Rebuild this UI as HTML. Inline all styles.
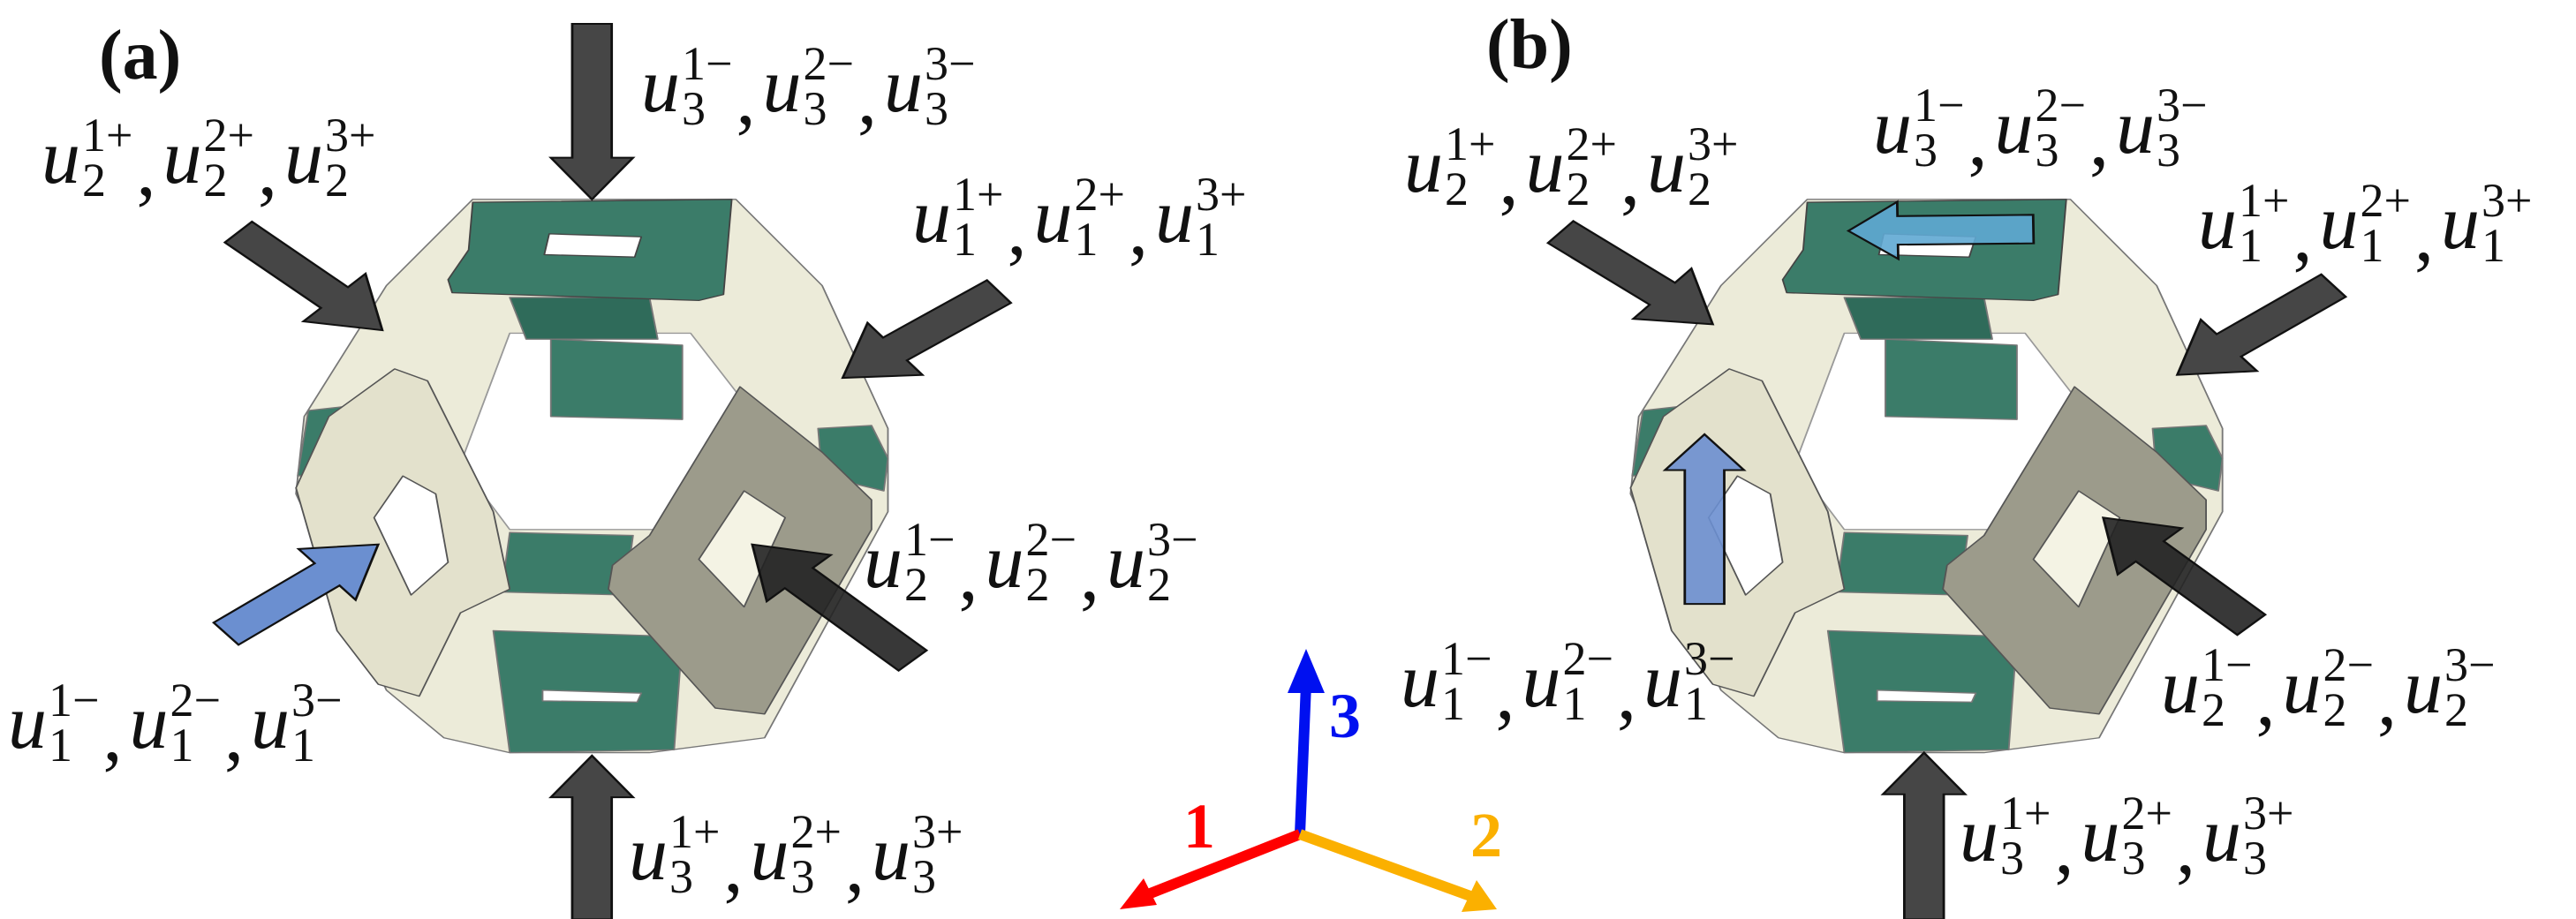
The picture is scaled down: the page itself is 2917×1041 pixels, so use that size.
<!DOCTYPE html>
<html><head><meta charset="utf-8">
<style>
html,body{margin:0;padding:0;background:#fff;}
#wrap{position:relative;width:2917px;height:1041px;overflow:hidden;background:#fff;}
svg{position:absolute;left:0;top:0;}
.lbl{position:absolute;font-family:"Liberation Serif",serif;font-style:italic;font-size:88px;color:#111;white-space:nowrap;line-height:1;display:flex;align-items:center;}
.g{display:inline-flex;align-items:center;}
.ss{display:inline-flex;flex-direction:column;font-style:normal;font-size:54px;line-height:0.95;margin-left:2px;}
.cm{font-style:normal;margin:0 8px 0 4px;position:relative;top:14px;}
.pl{position:absolute;font-family:"Liberation Serif",serif;font-weight:bold;font-size:80px;color:#111;}
.ax{position:absolute;font-family:"Liberation Serif",serif;font-weight:bold;font-size:72px;}
</style></head><body>
<div id="wrap">
<svg id="svg" width="2917" height="1041" viewBox="0 0 2917 1041">
  <g id="pa" transform="scale(0.931,0.674)"></g>
  <g id="pb" transform="translate(1460,0) scale(0.931,0.674)"></g>
  <g id="triad"></g>
</svg>
<div class="pl" style="left:112px;top:18px">(a)</div>
<div class="pl" style="left:1683px;top:6px">(b)</div>
<div class="ax" style="left:1340px;top:895px;color:#f00">1</div>
<div class="ax" style="left:1665px;top:905px;color:#fbb000">2</div>
<div class="ax" style="left:1505px;top:770px;color:#0010f0">3</div>
</div>
<script>
const NS="http://www.w3.org/2000/svg";
function el(parent,tag,attrs){const e=document.createElementNS(NS,tag);for(const k in attrs)e.setAttribute(k,attrs[k]);parent.appendChild(e);return e;}
function arrowPts(x1,y1,x2,y2,w,h,L){const dx=x2-x1,dy=y2-y1,len=Math.hypot(dx,dy),ux=dx/len,uy=dy/len,nx=-uy,ny=ux;const bx=x2-ux*L,by=y2-uy*L;
 const p=[[x1+nx*w,y1+ny*w],[bx+nx*w,by+ny*w],[bx+nx*h,by+ny*h],[x2,y2],[bx-nx*h,by-ny*h],[bx-nx*w,by-ny*w],[x1-nx*w,y1-ny*w]];return p.map(a=>a.join(',')).join(' ');}
function arrow(g,a,fill,op,name){const e=el(g,'polygon',{points:arrowPts(...a),fill:fill,stroke:'#111',"stroke-width":3,"fill-opacity":op});
 
 }
function poly(g,pts,fill,name,stroke){const e=el(g,'polygon',{points:pts,fill:fill,stroke:stroke||'#777',"stroke-width":2,"stroke-linejoin":"round"});
 
 return e;}
function cell(g,dx){
 const t=(pts)=>pts.split(' ').map(p=>{const [x,y]=p.split(',').map(Number);return (x+dx)+','+y;}).join(' ');
 poly(g,t("575,335 895,335 1000,480 1080,720 1080,860 930,1240 790,1265 620,1265 540,1240 470,1160 360,830 370,700 470,480"),'#ecebd9','cell-body');
 poly(g,t("620,560 840,560 930,720 860,890 620,890 560,780"),'#ffffff','center-void','#999');
 poly(g,t("620,500 790,500 800,570 640,570"),'#2f6b5a','upper-bar-top');
 poly(g,t("670,570 830,580 830,705 670,700"),'#3b7c69','upper-bar');
 poly(g,t("620,895 770,900 760,1000 610,995"),'#3b7c69','lower-bar');
 poly(g,t("600,1060 830,1070 820,1260 620,1265"),'#3b7c69','bottom-bar');
 poly(g,t("660,1160 780,1165 775,1180 660,1178"),'#ffffff','bottom-slot');
 poly(g,t("375,690 440,680 430,790 362,800"),'#3b7c69','left-cap');
 poly(g,t("995,720 1060,715 1080,770 1075,825 1000,800"),'#3b7c69','right-cap');
 poly(g,t("575,340 890,335 880,495 850,505 550,492 545,470 570,420"),'#3b7c69','top-plate','#444');
 poly(g,t("668,393 780,398 772,432 662,428"),'#ffffff','top-slot','#444');
 poly(g,t("480,620 520,640 600,860 620,990 560,1030 510,1170 460,1150 410,1060 360,820 370,790 400,700"),'#e3e1cc','left-plate','#555');
 poly(g,t("490,800 530,830 545,945 500,1000 455,870"),'#ffffff','left-plate-hole','#555');
 poly(g,t("900,650 1000,760 1060,840 1060,890 930,1200 870,1190 740,990 745,950 790,900"),'#9c9b8b','right-plate','#555');
 poly(g,t("905,825 955,870 905,1020 850,940"),'#f4f3e4','right-plate-hole','#555');
}
const pa=document.getElementById('pa'),pb=document.getElementById('pb');
cell(pa,0);cell(pb,55);
const D='#464646';
// panel a arrows (zoom coords)
arrow(pa,[720,40,720,335,24,50,70],D,1,'arrow-top-a');
arrow(pa,[720,1545,720,1270,24,50,70],D,1,'arrow-bottom-a');
arrow(pa,[290,390,465,555,24,55,80],D,1,'arrow-upper-left-a');
arrow(pa,[1215,490,1025,635,24,55,80],D,1,'arrow-upper-right-a');
arrow(pa,[275,1065,460,915,24,55,80],'#6b8fd0',1,'arrow-blue-a');
arrow(pa,[1110,1110,915,915,24,55,80],'#222',0.9,'arrow-lower-right-a');
// panel b arrows
arrow(pb,[330,390,515,545,24,55,80],D,1,'arrow-upper-left-b');
arrow(pb,[1270,480,1080,630,24,55,80],D,1,'arrow-upper-right-b');
arrow(pb,[1170,1050,990,870,24,55,80],'#222',0.9,'arrow-lower-right-b');
arrow(pb,[772,1545,772,1265,24,50,70],D,1,'arrow-bottom-b');
arrow(pb,[505,1015,505,730,24,48,60],'#6b8fd0',0.9,'arrow-blue-up-b');
arrow(pb,[905,385,680,388,24,48,60],'#5fa8d3',0.9,'arrow-blue-left-b');
// triad
const tr=document.getElementById('triad');
function tline(x2,y2,c,n){const e=el(tr,'line',{x1:1472,y1:945,x2:x2,y2:y2,stroke:c,"stroke-width":12});}
tline(1479,775,'#0010f0','axis-3');tline(1295,1015,'#f00','axis-1');tline(1665,1015,'#fbb000','axis-2');
function thead(p,c,n){const e=el(tr,'polygon',{points:p,fill:c});}
thead("1479,735 1458,785 1500,785",'#0010f0','axis-3-head');
thead("1268,1030 1295,995 1310,1025",'#f00','axis-1-head');
thead("1695,1030 1655,1033 1672,997",'#fbb000','axis-2-head');
// labels
const labels=[
 ['3','-',726,47,'label-top-a'],['2','+',47,128,'label-upper-left-a'],['1','+',1033,195,'label-upper-right-a'],
 ['2','-',978,586,'label-lower-right-a'],['1','-',9,768,'label-lower-left-a'],['3','+',712,917,'label-bottom-a'],
 ['3','-',2121,94,'label-top-b'],['2','+',1590,138,'label-upper-left-b'],['1','+',2489,202,'label-upper-right-b'],
 ['1','-',1586,721,'label-lower-left-b'],['2','-',2447,728,'label-lower-right-b'],['3','+',2219,896,'label-bottom-b']];
const wrap=document.getElementById('wrap');
labels.forEach(([sub,sg,x,y,n])=>{
 const d=document.createElement('div');d.className='lbl';d.style.left=x+'px';d.style.top=y+'px';
 
 
 const s=sg=='-'?'\u2212':'+';
 d.innerHTML=[1,2,3].map((k,i)=>'<span class="g">u<span class="ss"><span>'+k+s+'</span><span>'+sub+'</span></span></span>'+(i<2?'<span class="cm">,</span>':'')).join('');
 wrap.appendChild(d);
});
</script>
</body></html>
